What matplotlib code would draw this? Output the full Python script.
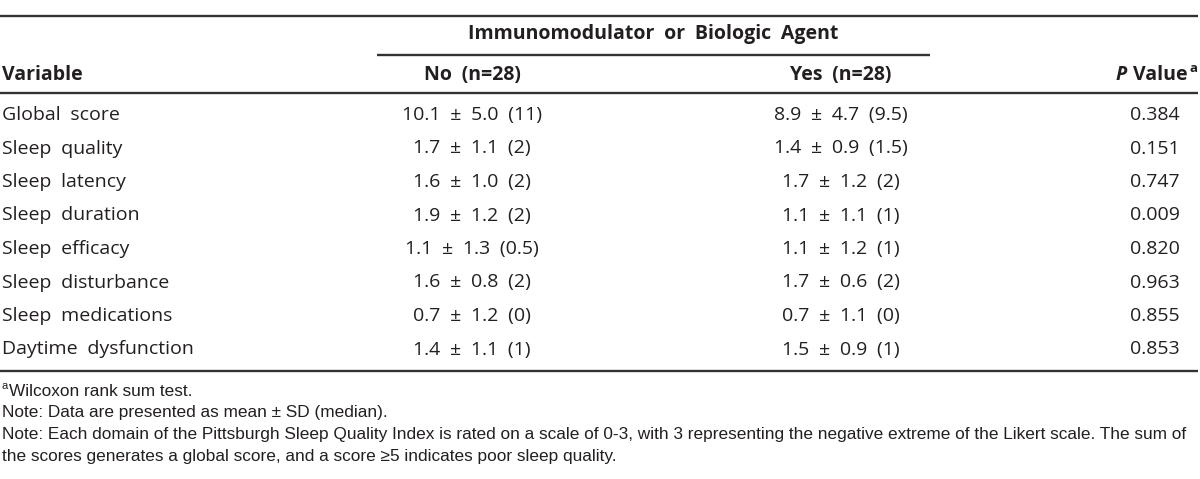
import matplotlib
matplotlib.use("Agg")
import matplotlib.pyplot as plt

plt.rcParams['font.family'] = ['Open Sans', 'DejaVu Sans']

# table content
variables = ["Global score", "Sleep quality", "Sleep latency", "Sleep duration",
             "Sleep efficacy", "Sleep disturbance", "Sleep medications",
             "Daytime dysfunction"]
no_group = ["10.1 \u00b1 5.0 (11)", "1.7 \u00b1 1.1 (2)", "1.6 \u00b1 1.0 (2)",
            "1.9 \u00b1 1.2 (2)", "1.1 \u00b1 1.3 (0.5)", "1.6 \u00b1 0.8 (2)",
            "0.7 \u00b1 1.2 (0)", "1.4 \u00b1 1.1 (1)"]
yes_group = ["8.9 \u00b1 4.7 (9.5)", "1.4 \u00b1 0.9 (1.5)", "1.7 \u00b1 1.2 (2)",
             "1.1 \u00b1 1.1 (1)", "1.1 \u00b1 1.2 (1)", "1.7 \u00b1 0.6 (2)",
             "0.7 \u00b1 1.1 (0)", "1.5 \u00b1 0.9 (1)"]
p_values = ["0.384", "0.151", "0.747", "0.009", "0.820", "0.963", "0.855", "0.853"]

span_header = "Immunomodulator or Biologic Agent"
col_headers = ["Variable", "No (n=28)", "Yes (n=28)"]
footnotes = [
    "Note: Data are presented as mean \u00b1 SD (median).",
    "Note: Each domain of the Pittsburgh Sleep Quality Index is rated on a scale of 0-3, with 3 representing the negative extreme of the Likert scale. The sum of",
    "the scores generates a global score, and a score \u22655 indicates poor sleep quality.",
]

W, H = 1200, 479
fig = plt.figure(figsize=(W / 100, H / 100), dpi=100)
ax = fig.add_axes([0, 0, 1, 1])
ax.set_xlim(0, W)
ax.set_ylim(H, 0)
ax.axis("off")

txt = "#231f20"
line_col = "#333333"
fs = 14
x_var, x_no, x_yes, x_p = 2, 472, 841, 1180
sp = "\u2002"  # wide word gaps like the typeset table


def wide(s):
    return s.replace(" ", sp)


# rules
for y, x0, x1 in [(16, 0, 1198), (55, 377, 930), (93, 0, 1198), (371, 0, 1198)]:
    ax.plot([x0, x1], [y, y], color=line_col, lw=1.7, solid_capstyle="butt")

# headers
ax.text(653, 34, wide(span_header), ha="center", va="center", fontsize=fs, fontweight="bold", color=txt)
ax.text(x_var, 75, col_headers[0], ha="left", va="center", fontsize=fs, fontweight="bold", color=txt)
ax.text(x_no, 75, wide(col_headers[1]), ha="center", va="center", fontsize=fs, fontweight="bold", color=txt)
ax.text(x_yes, 75, wide(col_headers[2]), ha="center", va="center", fontsize=fs, fontweight="bold", color=txt)

# P Value header with superscript
fig.canvas.draw()
r = fig.canvas.get_renderer()
sup = ax.text(1197, 68, "a", ha="right", va="center", fontsize=9.5, fontweight="bold", color=txt)
bb = sup.get_window_extent(r)
val = ax.text(1197 - bb.width - 1, 75, "Value", ha="right", va="center", fontsize=fs, fontweight="bold", color=txt)
bb2 = val.get_window_extent(r)
ax.text(1197 - bb.width - bb2.width - 8, 75, "P", ha="right", va="center", fontsize=fs,
        fontweight="bold", fontstyle="italic", color=txt)

# body rows
row_y0, row_step = 115, 33.5
for i in range(len(variables)):
    y = row_y0 + i * row_step
    ax.text(x_var, y, wide(variables[i]), ha="left", va="center", fontsize=fs, color=txt)
    ax.text(x_no, y, wide(no_group[i]), ha="center", va="center", fontsize=fs, color=txt)
    ax.text(x_yes, y, wide(yes_group[i]), ha="center", va="center", fontsize=fs, color=txt)
    ax.text(x_p, y, p_values[i], ha="right", va="center", fontsize=fs, color=txt)

# footnotes
ffs = 12.4
ax.text(2, 386, "a", ha="left", va="center", fontsize=8, color=txt, family="Liberation Sans")
ax.text(9, 391, "Wilcoxon rank sum test.", ha="left", va="center", fontsize=ffs, color=txt,
        family="Liberation Sans")
for j, note in enumerate(footnotes):
    ax.text(2, 413 + j * 21.5, note, ha="left", va="center", fontsize=ffs, color=txt,
            family="Liberation Sans")

fig.savefig("out.png", dpi=100)
